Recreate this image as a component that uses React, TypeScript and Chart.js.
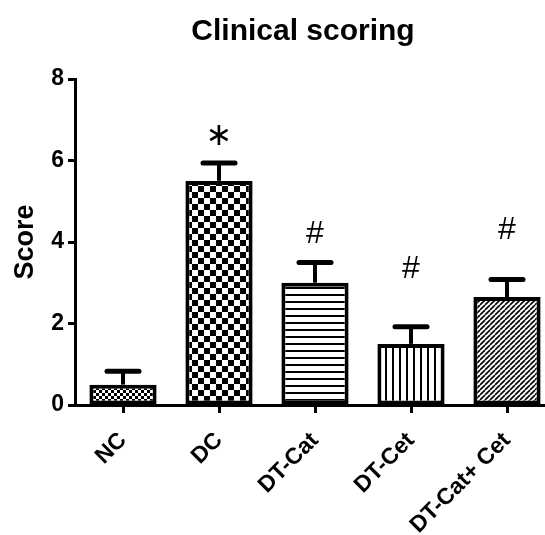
import React, { useEffect, useRef } from "react";
import { Chart, registerables } from "chart.js";

Chart.register(...registerables);

const categories = ["NC", "DC", "DT-Cat", "DT-Cet", "DT-Cat+ Cet"];
const meanScores = [0.5, 5.5, 3.0, 1.5, 2.65];
const errorScores = [0.33, 0.44, 0.5, 0.42, 0.43];
const sigMarks = ["", "\u2217", "#", "#", "#"];
const sigLevels = [0, 6.63, 4.25, 3.39, 4.34];
const yTicks = [0, 2, 4, 6, 8];
const patternKinds = ["fineChecker", "checker", "hlines", "vlines", "diag"];

const FONT = "'Liberation Sans', Arial, sans-serif";

function makePattern(kind: string): CanvasPattern | string {
  const c = document.createElement("canvas");
  const ctx = c.getContext("2d")!;
  if (kind === "fineChecker") {
    c.width = 6; c.height = 6;
    ctx.fillStyle = "#000"; ctx.fillRect(0, 0, 6, 6);
    ctx.fillStyle = "#fff";
    ctx.fillRect(0, 0, 3, 3); ctx.fillRect(3, 3, 3, 3);
  } else if (kind === "checker") {
    c.width = 12; c.height = 12;
    ctx.fillStyle = "#fff"; ctx.fillRect(0, 0, 12, 12);
    ctx.fillStyle = "#000";
    ctx.fillRect(0, 0, 6, 6); ctx.fillRect(6, 6, 6, 6);
  } else if (kind === "hlines") {
    c.width = 7; c.height = 7;
    ctx.fillStyle = "#fff"; ctx.fillRect(0, 0, 7, 7);
    ctx.fillStyle = "#000"; ctx.fillRect(0, 0, 7, 2);
  } else if (kind === "vlines") {
    c.width = 7; c.height = 7;
    ctx.fillStyle = "#fff"; ctx.fillRect(0, 0, 7, 7);
    ctx.fillStyle = "#000"; ctx.fillRect(0, 0, 2, 7);
  } else {
    c.width = 5; c.height = 5;
    ctx.fillStyle = "#fff"; ctx.fillRect(0, 0, 5, 5);
    ctx.strokeStyle = "#000"; ctx.lineWidth = 1.6;
    for (let k = -1; k <= 1; k++) {
      ctx.beginPath();
      ctx.moveTo(k * 5, 5);
      ctx.lineTo(k * 5 + 5, 0);
      ctx.stroke();
    }
  }
  const p = ctx.createPattern(c, "repeat");
  return p || "#888";
}

const overlayPlugin = {
  id: "overlay",
  afterDatasetsDraw(chart: any) {
    const ctx = chart.ctx;
    const meta = chart.getDatasetMeta(0);
    const ys = chart.scales.y;
    ctx.save();
    ctx.strokeStyle = "#000";
    meanScores.forEach((v, i) => {
      const bar = meta.data[i];
      const x = bar.x;
      const yBar = ys.getPixelForValue(v);
      const yTop = ys.getPixelForValue(v + errorScores[i]);
      ctx.lineCap = "butt";
      ctx.lineWidth = 4;
      ctx.beginPath();
      ctx.moveTo(x, yBar);
      ctx.lineTo(x, yTop);
      ctx.stroke();
      ctx.lineCap = "round";
      ctx.lineWidth = 5;
      ctx.beginPath();
      ctx.moveTo(x - 16, yTop);
      ctx.lineTo(x + 16, yTop);
      ctx.stroke();
      const mark = sigMarks[i];
      if (mark) {
        ctx.fillStyle = "#000";
        ctx.font = mark === "#" ? `normal 32px ${FONT}` : `normal 32px 'DejaVu Sans', sans-serif`;
        ctx.textAlign = "center";
        ctx.textBaseline = "alphabetic";
        const m = ctx.measureText(mark);
        const yc = ys.getPixelForValue(sigLevels[i]);
        ctx.fillText(mark, x, yc + (m.actualBoundingBoxAscent - m.actualBoundingBoxDescent) / 2);
      }
    });
    ctx.fillStyle = "#000";
    ctx.font = `bold 30px ${FONT}`;
    ctx.textAlign = "center";
    ctx.textBaseline = "alphabetic";
    ctx.fillText("Clinical scoring", 303, 40);
    ctx.restore();
  },
};

export default function App() {
  const ref = useRef<HTMLCanvasElement>(null);
  useEffect(() => {
    const canvas = ref.current!;
    const chart = new Chart(canvas, {
      type: "bar",
      data: {
        labels: categories,
        datasets: [
          {
            data: meanScores,
            backgroundColor: patternKinds.map(makePattern) as any,
            borderColor: "#000",
            borderWidth: 4,
            borderSkipped: false,
            barPercentage: 0.7,
            categoryPercentage: 1.0,
          },
        ],
      },
      options: {
        responsive: false,
        animation: false,
        layout: { padding: { top: 79, left: 0, right: 0, bottom: 0 } },
        plugins: { legend: { display: false }, tooltip: { enabled: false }, title: { display: false } },
        scales: {
          x: {
            type: "category",
            offset: true,
            grid: { display: true, offset: false, drawOnChartArea: false, tickLength: 8, tickWidth: 3, color: "#000" },
            border: { display: true, width: 3, color: "#000" },
            ticks: { maxRotation: 45, minRotation: 45, padding: 14, color: "#000", font: { family: FONT, size: 23, weight: "bold" } },
            afterFit: (s: any) => { s.height = 130; },
          },
          y: {
            min: 0,
            max: 8,
            afterBuildTicks: (s: any) => { s.ticks = yTicks.map((v) => ({ value: v })); },
            grid: { display: true, drawOnChartArea: false, tickLength: 7, tickWidth: 3, color: "#000" },
            border: { display: true, width: 3, color: "#000" },
            ticks: { padding: 4, color: "#000", font: { family: FONT, size: 23, weight: "bold" } },
            title: { display: true, text: "Score", color: "#000", padding: { top: 9, bottom: 0 }, font: { family: FONT, size: 27, weight: "bold" } },
            afterFit: (s: any) => { s.width = 75; },
          },
        },
      },
      plugins: [overlayPlugin],
    });
    return () => chart.destroy();
  }, []);
  return (
    <div style={{ position: "fixed", left: 0, top: 0, width: 545, height: 535, overflow: "hidden", background: "#fff" }}>
      <canvas ref={ref} width={555} height={535} style={{ display: "block" }} />
    </div>
  );
}
